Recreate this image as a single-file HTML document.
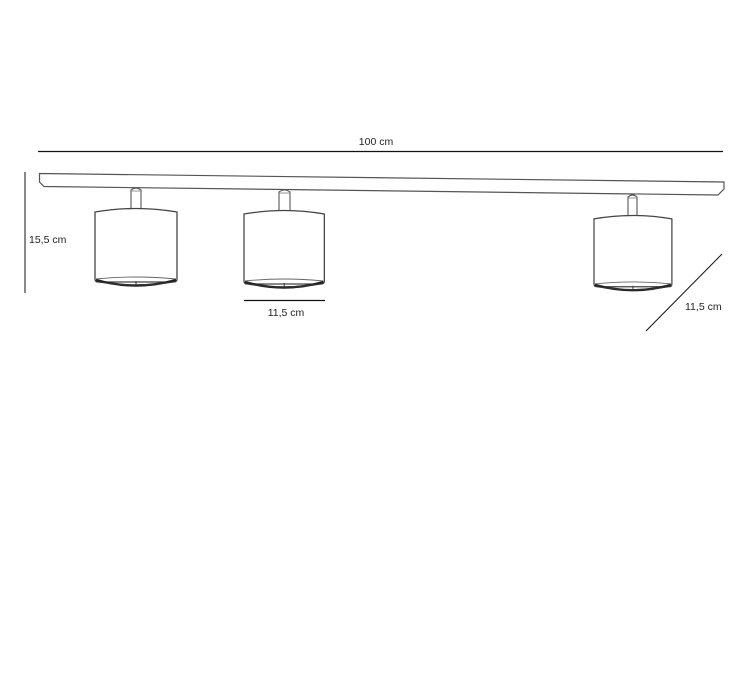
<!DOCTYPE html>
<html><head><meta charset="utf-8"><style>
html,body{margin:0;padding:0;background:#fff;width:752px;height:684px;overflow:hidden}
svg{display:block}
text{font-family:"Liberation Sans",sans-serif;font-size:10.5px;fill:#222}
</style></head><body>
<svg width="752" height="684" viewBox="0 0 752 684" xmlns="http://www.w3.org/2000/svg">
<defs>
<g id="lamp">
  <path d="M0,4 Q41,-3 82,4 L82,71 Q82,74 79,74 L3,74 Q0,74 0,71 Z" fill="#fff" stroke="#444" stroke-width="1.3"/>
  <path d="M1,71 Q41,67 81,71" fill="none" stroke="#666" stroke-width="0.9"/>
  <path d="M1,72 Q41,83 81,72" fill="none" stroke="#222" stroke-width="2.4"/>
  <path d="M4,74 Q41,80 78,74" fill="none" stroke="#333" stroke-width="1.2"/>
  <line x1="41" y1="73" x2="41" y2="78" stroke="#333" stroke-width="1"/>
</g>
</defs>
<line x1="38" y1="151.5" x2="723" y2="151.5" stroke="#111" stroke-width="1.2"/>
<text x="376" y="145" text-anchor="middle">100 cm</text>
<line x1="25" y1="172" x2="25" y2="293" stroke="#111" stroke-width="1"/>
<text x="29" y="243">15,5 cm</text>
<path d="M39.5,173.5 L724,182 L724,189 L718,195 L44,186.5 L39.5,182 Z" fill="#fff" stroke="#555" stroke-width="1.2"/>
<g fill="#fff" stroke="#555" stroke-width="1.1">
  <path d="M131,209 L131,190 Q136,186 141,190 L141,209"/>
  <path d="M279,211 L279,192 Q284.5,188 290,192 L290,211"/>
  <path d="M628,216 L628,197 Q632.5,193 637,197 L637,216"/>
</g>
<g fill="none" stroke="#777" stroke-width="0.8">
  <line x1="131" y1="191" x2="141" y2="191"/>
  <line x1="279" y1="193" x2="290" y2="193"/>
  <line x1="628" y1="198" x2="637" y2="198"/>
</g>
<use href="#lamp" transform="translate(95,208)"/>
<use href="#lamp" transform="translate(244,210) scale(0.98,1)"/>
<use href="#lamp" transform="translate(594,215) scale(0.95,0.97)"/>
<line x1="244" y1="300.5" x2="325" y2="300.5" stroke="#111" stroke-width="1.2"/>
<text x="286" y="316" text-anchor="middle">11,5 cm</text>
<line x1="646" y1="331" x2="722" y2="254" stroke="#111" stroke-width="1"/>
<text x="685" y="310">11,5 cm</text>
</svg>
</body></html>
